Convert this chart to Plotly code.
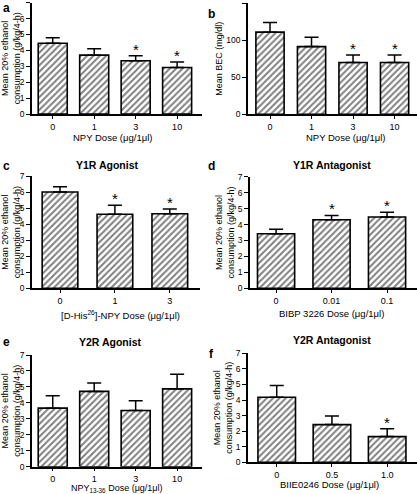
import plotly.graph_objects as go

# ---------------- data ----------------
a_doses = ["0", "1", "3", "10"]
a_mean = [4.45, 3.70, 3.35, 2.92]
a_sem = [0.35, 0.40, 0.32, 0.35]
a_sig = [False, False, True, True]

b_doses = ["0", "1", "3", "10"]
b_mean = [111, 91.5, 70, 70]
b_sem = [13, 12.5, 10, 10]
b_sig = [False, False, True, True]

c_doses = ["0", "1", "3"]
c_mean = [6.0, 4.62, 4.65]
c_sem = [0.33, 0.55, 0.30]
c_sig = [False, True, True]

d_doses = ["0", "0.01", "0.1"]
d_mean = [3.42, 4.30, 4.47]
d_sem = [0.28, 0.27, 0.30]
d_sig = [False, True, True]

e_doses = ["0", "1", "3", "10"]
e_mean = [3.67, 4.72, 3.52, 4.88]
e_sem = [0.77, 0.52, 0.62, 0.92]
e_sig = [False, False, False, False]

f_doses = ["0", "0.5", "1.0"]
f_mean = [4.18, 2.42, 1.65]
f_sem = [0.75, 0.55, 0.50]
f_sig = [False, False, True]

ylab_eth = "Mean 20% ethanol<br>consumption (g/kg/4-h)"
ylab_bec = "Mean BEC (mg/dl)"

W, H = 417, 494
FONT = "Arial, Liberation Sans, sans-serif"

def px_x(v):
    return v / W

def px_y(v):
    return 1 - v / H

panels = [
    dict(doses=a_doses, mean=a_mean, sem=a_sem, sig=a_sig, yl=ylab_eth, xd=(32, 202), yd=(2.7, 114), xr=[-0.5, 3.6], yr=[0, 7], dt=1, bw=0.70),
    dict(doses=b_doses, mean=b_mean, sem=b_sem, sig=b_sig, yl=ylab_bec, xd=(248, 417), yd=(3.3, 114.3), xr=[-0.53, 3.54], yr=[0, 150], dt=50, bw=0.68),
    dict(doses=c_doses, mean=c_mean, sem=c_sem, sig=c_sig, yl=ylab_eth, xd=(32, 200), yd=(176, 288.3), xr=[-0.51, 2.55], yr=[0, 7], dt=1, bw=0.65),
    dict(doses=d_doses, mean=d_mean, sem=d_sem, sig=d_sig, yl=ylab_eth, xd=(250, 417), yd=(176.7, 288.3), xr=[-0.47, 2.54], yr=[0, 7], dt=1, bw=0.67),
    dict(doses=e_doses, mean=e_mean, sem=e_sem, sig=e_sig, yl=ylab_eth, xd=(32, 202), yd=(355, 466.7), xr=[-0.5, 3.6], yr=[0, 7], dt=1, bw=0.70),
    dict(doses=f_doses, mean=f_mean, sem=f_sem, sig=f_sig, yl=ylab_eth, xd=(248, 417), yd=(353.3, 462.3), xr=[-0.52, 2.54], yr=[0, 7], dt=1, bw=0.68),
]

fig = go.Figure()
layout = dict(
    width=W, height=H, margin=dict(l=0, r=0, t=0, b=0),
    paper_bgcolor="white", plot_bgcolor="rgba(0,0,0,0)", showlegend=False,
    font=dict(family=FONT, color="black", size=9),
)
annotations = []

for i, p in enumerate(panels):
    k = "" if i == 0 else str(i + 1)
    xs = list(range(len(p["doses"])))
    fig.add_trace(go.Bar(
        x=xs, y=p["mean"], width=p["bw"],
        xaxis="x" + k, yaxis="y" + k,
        marker=dict(color="white", line=dict(color="black", width=1.6),
                    pattern=dict(shape="/", fgcolor="black", bgcolor="white", size=4.5, solidity=0.45)),
        error_y=dict(type="data", symmetric=False, array=p["sem"], arrayminus=[0] * len(xs),
                     color="black", thickness=1.5, width=7),
    ))
    layout["xaxis" + k] = dict(
        domain=[px_x(p["xd"][0]), px_x(p["xd"][1])], range=p["xr"],
        anchor="y" + k, showline=True, linecolor="black", linewidth=1.5,
        tickmode="array", tickvals=xs, ticktext=p["doses"], ticks="outside", ticklen=3, tickwidth=1.2,
        tickcolor="black", showgrid=False, zeroline=False, fixedrange=True,
        tickfont=dict(size=9, family=FONT, color="black"),
    )
    layout["yaxis" + k] = dict(
        domain=[px_y(p["yd"][1]), px_y(p["yd"][0])], range=p["yr"],
        anchor="x" + k, showline=True, linecolor="black", linewidth=1.5,
        tickmode="linear", tick0=0, dtick=p["dt"], showticklabels=True,
        ticks="outside", ticklen=4, tickwidth=1.2, tickcolor="black",
        showgrid=False, zeroline=False, fixedrange=True, automargin=False,
        tickfont=dict(size=8.5, family=FONT, color="black"),
        title=dict(text=p["yl"], font=dict(size=9, family=FONT, color="black"), standoff=2),
    )
    for xi, m, s, sg in zip(xs, p["mean"], p["sem"], p["sig"]):
        if sg:
            annotations.append(dict(
                x=xi, y=m + s, xref="x" + k, yref="y" + k, text="*",
                showarrow=False, yanchor="bottom", yshift=-4,
                font=dict(size=15, family=FONT, color="black"),
            ))

def txt(x, y, text, size=10, bold=False):
    if bold:
        text = "<b>" + text + "</b>"
    annotations.append(dict(
        x=px_x(x), y=px_y(y), xref="paper", yref="paper", text=text,
        showarrow=False, xanchor="center", yanchor="middle",
        font=dict(size=size, family=FONT, color="black"),
    ))

# panel letters
txt(6, 8, "a", 12, True)
txt(212, 14, "b", 12, True)
txt(6, 166, "c", 12, True)
txt(212, 166, "d", 12, True)
txt(6, 342, "e", 12, True)
txt(212, 354, "f", 12, True)
# titles
txt(107, 165, "Y1R Agonist", 10.5, True)
txt(332, 165, "Y1R Antagonist", 10.5, True)
txt(110, 342, "Y2R Agonist", 10.5, True)
txt(332, 340, "Y2R Antagonist", 10.5, True)
# x-axis titles
txt(112, 137, "NPY Dose (\u03bcg/1\u03bcl)", 9.5)
txt(345, 137, "NPY Dose (\u03bcg/1\u03bcl)", 9.5)
txt(120, 315, "[D-His<sup>26</sup>]-NPY Dose (\u03bcg/1\u03bcl)", 9.5)
txt(331, 313, "BIBP 3226 Dose (\u03bcg/1\u03bcl)", 9.5)
txt(117, 488.5, "NPY<sub>13-36</sub> Dose (\u03bcg/1\u03bcl)", 9)
txt(329, 484, "BIIE0246 Dose (\u03bcg/1\u03bcl)", 9.5)

layout["annotations"] = annotations
fig.update_layout(**layout)
fig.write_html("out.html", config={"displayModeBar": False},
               post_script="document.body.style.margin='0';document.body.style.padding='0';")
